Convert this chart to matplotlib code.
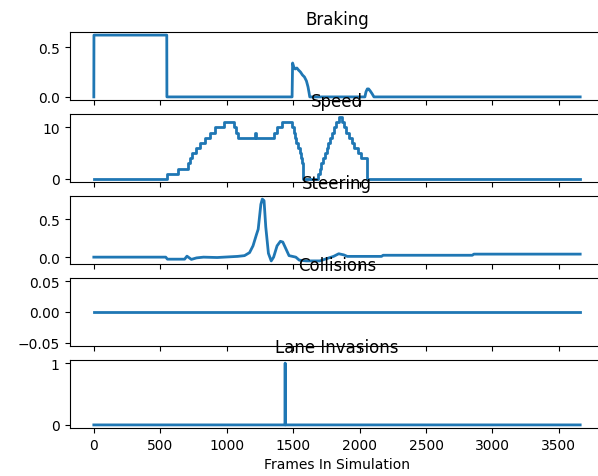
import matplotlib
matplotlib.use("Agg")
import matplotlib.pyplot as plt

# ---- data ----
braking_x = [0, 1, 549, 550, 1492, 1496, 1505, 1515, 1528, 1540, 1555, 1570, 1585,
             1600, 1612, 1620, 1625, 2040, 2048, 2058, 2068, 2080, 2095, 2108, 3660]
braking_y = [0, 0.62, 0.62, 0, 0, 0.34, 0.30, 0.28, 0.29, 0.27, 0.25, 0.22, 0.20,
             0.16, 0.10, 0.04, 0, 0, 0.05, 0.08, 0.08, 0.06, 0.03, 0, 0]

speed_x = [0, 554, 631, 709, 722, 742, 768, 799, 838, 876, 915, 979, 1057, 1070, 1082,
           1210, 1222, 1353, 1380, 1417, 1494, 1505, 1515, 1525, 1537, 1548, 1558, 1566,
           1572, 1690, 1700, 1713, 1726, 1739, 1752, 1765, 1778, 1791, 1804, 1825, 1843,
           1868, 1885, 1900, 1920, 1940, 1960, 1985, 2010, 2054, 3660]
speed_y = [0, 1, 2, 3, 4, 5, 6, 7, 8, 9, 10, 11, 10, 9, 8,
           9, 8, 9, 10, 11, 10, 9, 8, 7, 6, 5, 4, 3,
           0, 1, 2, 3, 4, 5, 6, 7, 8, 9, 10, 11, 12,
           11, 10, 9, 8, 7, 6, 5, 4, 0, 0]

steering_x = [0, 541, 554, 683, 701, 734, 773, 825, 928, 979, 1082, 1134, 1172, 1198,
              1224, 1237, 1257, 1268, 1281, 1294, 1314, 1335, 1353, 1379, 1404, 1422,
              1443, 1469, 1520, 1546, 1598, 1701, 1752, 1804, 1843, 1881, 1907, 2165,
              2177, 2848, 2860, 3660]
steering_y = [0, 0, -0.027, -0.027, 0.013, -0.03, -0.01, 0, -0.005, 0, 0.01, 0.02, 0.06,
              0.15, 0.30, 0.37, 0.70, 0.77, 0.75, 0.40, 0.05, -0.05, 0.0, 0.15, 0.21, 0.20,
              0.12, 0.02, 0.0, -0.04, -0.05, -0.05, -0.02, 0.01, 0.045, 0.03, 0.01, 0.01,
              0.025, 0.025, 0.04, 0.04]

collisions_x = [0, 3660]
collisions_y = [0, 0]

lane_x = [0, 1439, 1440, 1441, 3660]
lane_y = [0, 0, 1, 0, 0]

titles = ["Braking", "Speed", "Steering", "Collisions", "Lane Invasions"]
xlabel = "Frames In Simulation"

# ---- figure ----
W, H = 598, 477
fig = plt.figure(figsize=(W / 100, H / 100), dpi=100)

left = 69.5 / W
width = 535 / W
ax_h = 68 / H
pitch = 82 / H
bottom0 = (H - 429) / H

series = [(braking_x, braking_y, None),
          (speed_x, speed_y, "steps-post"),
          (steering_x, steering_y, None),
          (collisions_x, collisions_y, None),
          (lane_x, lane_y, None)]

axes = []
for i, (xs, ys, ds) in enumerate(series):
    b = bottom0 + (4 - i) * pitch
    ax = fig.add_axes([left, b, width, ax_h], sharex=axes[0] if axes else None)
    if ds:
        ax.plot(xs, ys, color="#1f77b4", lw=2, drawstyle=ds)
    else:
        ax.plot(xs, ys, color="#1f77b4", lw=2)
    ax.set_title(titles[i], fontsize=12)
    if i < 4:
        ax.tick_params(labelbottom=False)
    axes.append(ax)

axes[-1].set_xlabel(xlabel, fontsize=10)

fig.savefig("out.png", dpi=100)
